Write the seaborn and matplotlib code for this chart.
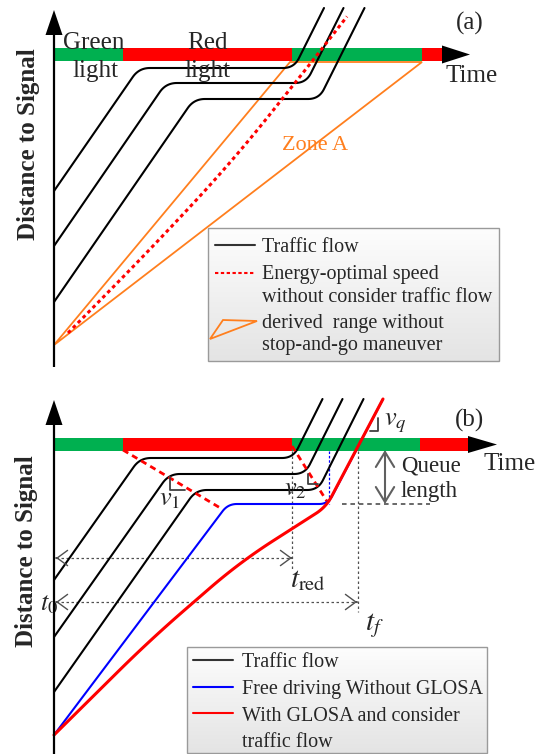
import numpy as np
import matplotlib
matplotlib.use("Agg")
import matplotlib.pyplot as plt
import seaborn as sns
from matplotlib.patches import Polygon, Rectangle
from matplotlib.colors import LinearSegmentedColormap

sns.set_theme(style="white")
plt.rcParams["font.family"] = ["Liberation Serif", "DejaVu Serif"]
plt.rcParams["mathtext.fontset"] = "stix"

GREEN, RED, ORANGE, BLUE = "#00b050", "#ff0000", "#ff7f1e", "#0000ff"
GRAY = "#505050"

# ---- signal plan (time measured from t0 along the Time axis) ----
phase_colors = [GREEN, RED, GREEN, RED]
phase_start_a = [0, 69, 238, 368]
phase_len_a = [69, 169, 130, 20]
phase_start_b = [0, 69, 238, 366]
phase_len_b = [69, 169, 128, 48]

# ---- panel (a): trajectories (distance to signal grows downward) ----
flow_a_t = [[0, 85, 240, 270], [0, 112, 252, 289.5], [0, 140, 265, 310.5]]
flow_a_d = [[136.5, 13.5, 13.5, -46.5], [191.5, 28.5, 28.5, -46.5],
            [247.5, 44.5, 44.5, -46.5]]
energy_t = [14, 100, 180, 258, 293]
energy_d = [278.5, 191, 105, 7, -38]
zone_t = [0, 236, 368]
zone_d = [290.5, 7.5, 7.5]

# ---- panel (b) ----
flow_b_t = [[0, 86, 239, 268.5], [0, 115, 251, 288.5], [0, 142, 264, 309.5]]
flow_b_d = [[135.5, 13.5, 13.5, -45.5], [192.5, 29.5, 29.5, -45.5],
            [247.5, 45.5, 45.5, -45.5]]
free_t = [0, 174, 274, 329]
free_d = [290.5, 59.5, 59.5, -45.5]
glosa_t = [0, 96, 186, 272, 329]
glosa_d = [290.5, 195.5, 117.5, 62.5, -45.5]
queue_wave_t = [69, 168]          # back of queue while the light is red
queue_wave_d = [5.5, 64.5]
discharge_wave_t = [238, 274]     # queue discharge after green onset
discharge_wave_d = [1.5, 58.5]
t_red_end = 238
t_final = 304
queue_tail_d = 59.5

BAR_H = 12.4


def smooth_path(ts, ds, radius, n=24):
    """Polyline with each inner corner replaced by a quadratic Bezier."""
    pts = np.column_stack([ts, ds]).astype(float)
    radii = np.broadcast_to(radius, (len(pts) - 2,))
    out = [pts[0]]
    for i in range(1, len(pts) - 1):
        p0, p1, p2 = pts[i - 1], pts[i], pts[i + 1]
        v1, v2 = p0 - p1, p2 - p1
        l1, l2 = np.hypot(*v1), np.hypot(*v2)
        r = min(radii[i - 1], l1 / 2, l2 / 2)
        a, b = p1 + v1 / l1 * r, p1 + v2 / l2 * r
        s = np.linspace(0, 1, n)[:, None]
        out.extend((1 - s) ** 2 * a + 2 * (1 - s) * s * p1 + s ** 2 * b)
    out.append(pts[-1])
    return np.array(out)


def trajectory(ax, ts, ds, radius=10, **kw):
    p = smooth_path(ts, ds, radius)
    sns.lineplot(x=p[:, 0], y=p[:, 1], sort=False, estimator=None, ax=ax, **kw)


def signal_axis(ax, starts, lens, bottom, head_end, head_half):
    ax.barh(0, lens, left=starts, height=BAR_H, color=phase_colors,
            linewidth=0, zorder=2)
    end = starts[-1] + lens[-1]
    ax.fill([end, head_end, end], [-head_half, 0, head_half], color="black",
            lw=0, zorder=2)
    ax.plot([0, 0], [bottom, -19.5], color="black", lw=1.6, zorder=5,
            solid_capstyle="butt")
    ax.fill([-8.5, 0, 8.5], [-19.5, -44.5, -19.5], color="black", lw=0, zorder=5)


def legend_box(ax, t0, t1, d0, d1):
    grad = np.linspace(0, 1, 64)[:, None]
    cmap = LinearSegmentedColormap.from_list("box", ["#fdfdfd", "#e4e4e4"])
    ax.imshow(grad, extent=[t0, t1, d1, d0], cmap=cmap, aspect="auto",
              zorder=6, interpolation="bilinear")
    ax.add_patch(Rectangle((t0, d0), t1 - t0, d1 - d0, fill=False,
                           edgecolor="#9a9a9a", lw=1.0, zorder=7))


def chevron(ax, tip, direction, color=GRAY, hl=0.8, hw=0.55, scale=10, lw=1.0):
    ax.annotate("", xy=tip, xytext=(tip[0] - 0.01 * direction[0],
                                    tip[1] - 0.01 * direction[1]),
                arrowprops=dict(arrowstyle=f"->,head_length={hl},head_width={hw}",
                                mutation_scale=scale, lw=lw, color=color,
                                shrinkA=0, shrinkB=0), zorder=5)


fig = plt.figure(figsize=(5.43, 7.54), dpi=100)
ax_a = fig.add_axes([0, 0.5, 1, 0.5])
ax_b = fig.add_axes([0, 0, 1, 0.5])

LEG = 14.5
BIG = 18

# ================= panel (a) =================
ax = ax_a
signal_axis(ax, phase_start_a, phase_len_a, 312.5, 416, 9)
for ts, ds in zip(flow_a_t, flow_a_d):
    trajectory(ax, ts, ds, radius=11, color="black", linewidth=1.5, zorder=3)
ax.add_patch(Polygon(np.column_stack([zone_t, zone_d]), closed=True, fill=False,
                     edgecolor=ORANGE, lw=1.3, zorder=1.5, joinstyle="miter"))
pe = smooth_path(energy_t, energy_d, [60, 60, 40])
ax.plot(pe[:, 0], pe[:, 1], color=RED, lw=2.2, ls=(0, (1.2, 1.1)), zorder=3)

ax.text(40, -5.5, "Green", fontsize=BIG, ha="center", va="baseline", zorder=5)
ax.text(41, 22.5, "light", fontsize=BIG, ha="center", va="baseline", zorder=5)
ax.text(153, -5.5, "Red", fontsize=BIG, ha="center", va="baseline", zorder=5)
ax.text(153, 22.5, "light", fontsize=BIG, ha="center", va="baseline", zorder=5)
ax.text(391, 27.5, "Time", fontsize=BIG, ha="left", va="baseline")
ax.text(416, -24.5, "(a)", fontsize=BIG, ha="center", va="baseline")
ax.text(261, 95, "Zone A", fontsize=16, color=ORANGE, ha="center", va="baseline")
ax.text(-26, 89.5, "Distance to Signal", fontsize=BIG, fontweight="bold",
        rotation=90, ha="center", va="center")

legend_box(ax, 154, 445, 173.5, 306.5)
ax.plot([161, 201], [190.5, 190.5], color="#333333", lw=1.5, zorder=8)
ax.plot([161, 201], [218.5, 218.5], color=RED, lw=1.5, ls=(0, (1.6, 1.2)), zorder=8)
ax.add_patch(Polygon([[156, 284.5], [169, 265.5], [203, 266.5]], closed=True,
                     fill=False, edgecolor=ORANGE, lw=1.3, zorder=8))
for d, s in zip([197.5, 224.5, 247.5, 273.5, 295.5],
                ["Traffic flow", "Energy-optimal speed",
                 "without consider traffic flow", "derived  range without",
                 "stop-and-go maneuver"]):
    ax.text(208, d, s, fontsize=LEG, va="baseline", ha="left", zorder=8)

ax.set_xlim(-54, 489)
ax.set_ylim(322.5, -54.5)
ax.axis("off")

# ================= panel (b) =================
ax = ax_b
signal_axis(ax, phase_start_b, phase_len_b, 309.5, 443, 8.5)

# guide lines
dot = dict(color=GRAY, lw=0.9, ls=(0, (2, 2)), zorder=2.5)
ax.plot([t_red_end, t_red_end], [6.2, 125.5], **dot)
ax.plot([t_final, t_final], [6.2, 167.5], **dot)
ax.plot([2, t_red_end], [113.5, 113.5], **dot)
ax.plot([2, t_final - 1], [157.5, 157.5], **dot)
for y, xe in [(113.5, t_red_end), (157.5, t_final - 1)]:
    chevron(ax, (2, y), (-1, 0), hl=0.75, hw=0.55)
    chevron(ax, (xe, y), (1, 0), hl=0.75, hw=0.55)
ax.plot([288, 376], [queue_tail_d, queue_tail_d], color="#404040", lw=1.1,
        ls=(0, (3, 2.5)), zorder=2.5)
ax.plot([275, 275], [6.2, queue_tail_d], color=BLUE, lw=0.9, ls=(0, (2, 1.5)),
        zorder=2.5)
ax.annotate("", xy=(331, 5.5), xytext=(331, queue_tail_d),
            arrowprops=dict(arrowstyle="<->,head_length=0.9,head_width=0.55",
                            mutation_scale=12, lw=1.5, color="#606060",
                            shrinkA=0, shrinkB=0), zorder=3)

for ts, ds in zip(flow_b_t, flow_b_d):
    trajectory(ax, ts, ds, radius=11, color="black", linewidth=1.5, zorder=3)
trajectory(ax, free_t, free_d, radius=9, color=BLUE, linewidth=1.5, zorder=3.2)
trajectory(ax, glosa_t, glosa_d, radius=[45, 40, 12], color=RED, linewidth=2.2,
           zorder=3.4)
ax.plot(queue_wave_t, queue_wave_d, color=RED, lw=2.0, ls=(0, (2.2, 1.6)), zorder=3.1)
ax.plot(discharge_wave_t, discharge_wave_d, color=RED, lw=2.0, ls=(0, (2.2, 1.6)),
        zorder=3.1)

# slope markers
mark = dict(color="#404040", lw=1.3, zorder=3.3)
ax.plot([116, 116, 131], [32.5, 45.5, 45.5], **mark)
ax.plot([254, 254, 264], [29.5, 39.5, 39.5], **mark)
ax.plot([316, 324, 324], [-13.5, -13.5, -26.5], **mark)

ax.text(105, 60.5, r"$v_1$", fontsize=19, va="baseline", ha="left", zorder=5)
ax.text(230, 50.5, r"$v_2$", fontsize=19, va="baseline", ha="left", zorder=5)
ax.text(330, -19.5, r"$v_q$", fontsize=19, va="baseline", ha="left", zorder=5)
ax.text(236, 142.5, r"$t_{\mathrm{red}}$", fontsize=21, va="baseline", ha="left")
ax.text(311, 185.5, r"$t_f$", fontsize=21, va="baseline", ha="left")
ax.text(-14, 165.5, r"$t_0$", fontsize=19, va="baseline", ha="left")

ax.text(347, 26.5, "Queue", fontsize=16.5, va="baseline", ha="left")
ax.text(347, 52.5, "length", fontsize=16.5, va="baseline", ha="left")
ax.text(429, 25.5, "Time", fontsize=BIG, ha="left", va="baseline")
ax.text(416, -17.5, "(b)", fontsize=BIG, ha="center", va="baseline")
ax.text(-27, 106.5, "Distance to Signal", fontsize=BIG, fontweight="bold",
        rotation=90, ha="center", va="center")

legend_box(ax, 133, 433, 202.5, 308.5)
for d, c in zip([215.5, 242.5, 268.5], ["#333333", BLUE, RED]):
    ax.plot([139, 179], [d, d], color=c, lw=1.5, zorder=8)
for d, s in zip([222.5, 249.5, 276.5, 302.5],
                ["Traffic flow", "Free driving Without GLOSA",
                 "With GLOSA and consider", "traffic flow"]):
    ax.text(188, d, s, fontsize=LEG, va="baseline", ha="left", zorder=8)

ax.set_xlim(-54, 489)
ax.set_ylim(309.5, -67.5)
ax.axis("off")

fig.savefig("out.png", dpi=100)
